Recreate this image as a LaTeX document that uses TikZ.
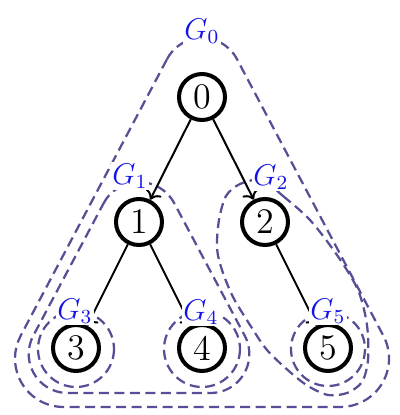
\documentclass[tikz,border=0pt]{standalone}
\usetikzlibrary{arrows.meta}
\definecolor{regcol}{RGB}{85,80,150}
\definecolor{labcol}{RGB}{20,20,230}
\begin{document}
\begin{tikzpicture}[x=0.4pt,y=-0.4pt,
  vert/.style={circle,draw,line width=1.6pt,minimum size=18.4pt,inner sep=0pt,font=\Large,fill=white},
  region/.style={draw=regcol,line width=0.9pt,dash pattern=on 4pt off 2.2pt},
  glabel/.style={fill=white,inner sep=0.6pt,text=labcol,font=\large},
  edge/.style={->,line width=0.8pt}]
\useasboundingbox (0,0) rectangle (400,415);
% G0
\draw[region] (167.1,59) arc[start angle=-152.1,end angle=-27.9,radius=39.5]
  -- (383.4,335.8) arc[start angle=-27.9,end angle=90,radius=48.5]
  -- (63.5,407) arc[start angle=90,end angle=207.9,radius=48.5] -- cycle;
% G1
\draw[region] (103.6,203.3) arc[start angle=-152.1,end angle=-27.9,radius=40]
  -- (244.8,335.8) arc[start angle=-27.9,end angle=90,radius=39]
  -- (67.7,393) arc[start angle=90,end angle=207.9,radius=39] -- cycle;
% G2
\draw[region] plot[smooth cycle,tension=0.5] coordinates {
  (262,180) (283,196) (310,220) (337,255) (358,290) (367,325) (368,360) (362,382)
  (347,393) (328,395) (308,386) (290,372) (267,350) (250,325) (233,297) (222,270)
  (217,248) (219,220) (226,196) (240,184)};
% leaf regions
\draw[region] (76,349) circle[radius=38];
\draw[region] (202,349) circle[radius=38];
\draw[region] (328,349) circle[radius=37];
% vertices
\node[vert] (n0) at (202,97) {0};
\node[vert] (n1) at (139,222) {1};
\node[vert] (n2) at (265,222) {2};
\node[vert] (n3) at (76,348) {3};
\node[vert] (n4) at (202,348) {4};
\node[vert] (n5) at (328,348) {5};
% edges
\draw[edge] (n0) -- (n1);
\draw[edge] (n0) -- (n2);
\draw[edge] (n1) -- (n3);
\draw[edge] (n1) -- (n4);
\draw[edge] (n2) -- (n5);
% labels
\node[glabel] (g0) at (202,31) {$G_0$};
\node[glabel] (g1) at (130,176) {$G_1$};
\node[glabel] (g2) at (271,177) {$G_2$};
\node[glabel] (g3) at (75,311) {$G_3$};
\node[glabel] (g4) at (201,312) {$G_4$};
\node[glabel] (g5) at (328,311) {$G_5$};
\end{tikzpicture}
\end{document}
